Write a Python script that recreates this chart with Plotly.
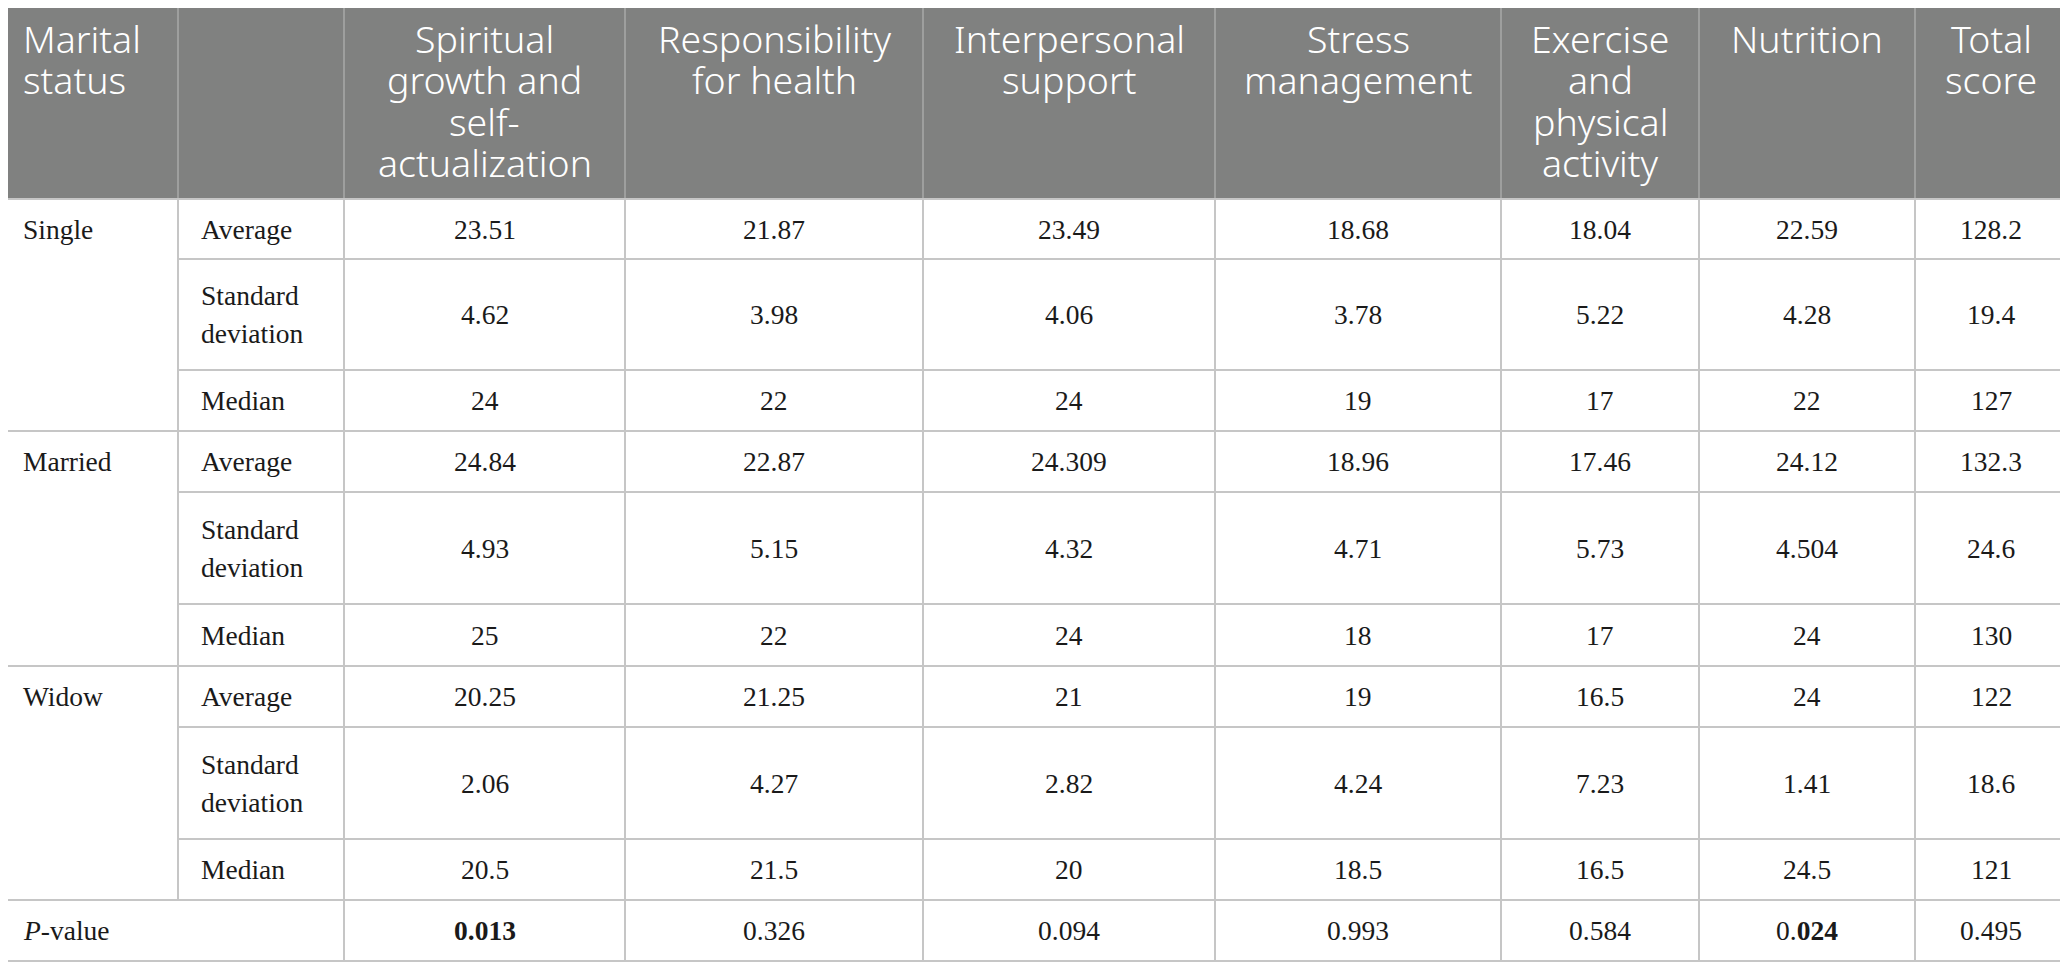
import plotly.graph_objects as go

# ---------------- data ----------------
header_first = "Marital<br>status"
categories = [
    "Spiritual<br>growth and<br>self-<br>actualization",
    "Responsibility<br>for health",
    "Interpersonal<br>support",
    "Stress<br>management",
    "Exercise<br>and<br>physical<br>activity",
    "Nutrition",
    "Total<br>score",
]
groups = ["Single", "Married", "Widow"]
stats = ["Average", "Standard<br>deviation", "Median"]

single_avg = ["23.51", "21.87", "23.49", "18.68", "18.04", "22.59", "128.2"]
single_sd = ["4.62", "3.98", "4.06", "3.78", "5.22", "4.28", "19.4"]
single_med = ["24", "22", "24", "19", "17", "22", "127"]
married_avg = ["24.84", "22.87", "24.309", "18.96", "17.46", "24.12", "132.3"]
married_sd = ["4.93", "5.15", "4.32", "4.71", "5.73", "4.504", "24.6"]
married_med = ["25", "22", "24", "18", "17", "24", "130"]
widow_avg = ["20.25", "21.25", "21", "19", "16.5", "24", "122"]
widow_sd = ["2.06", "4.27", "2.82", "4.24", "7.23", "1.41", "18.6"]
widow_med = ["20.5", "21.5", "20", "18.5", "16.5", "24.5", "121"]
p_label = "<i>P</i>-value"
p_values = ["<b>0.013</b>", "0.326", "0.094", "0.993", "0.584", "0.<b>024</b>", "0.495"]

rows = [single_avg, single_sd, single_med,
        married_avg, married_sd, married_med,
        widow_avg, widow_sd, widow_med]

# ---------------- layout geometry (page pixels) ----------------
W, H = 2068, 980
OFF = 8  # page body margin
col_x = [1, 178, 344, 625, 923, 1215, 1501, 1699, 1915, 2067]
head_top, head_bot = 5, 199
row_y = [199, 259, 370, 431, 492, 604, 666, 727, 839, 900, 961]

HEAD_BG = "#808180"
HEAD_SEP = "#a9aaa9"
GRID = "#c6c6c6"
TXT = "#1a1a1a"
SERIF = "Liberation Serif"
SANS = "Noto Sans"
BODY_SIZE = 27.5
HEAD_SIZE = 37.5
HEAD_LINE = 41.5
HEAD_Y0 = 38
BODY_LINE = 38

shapes = []
annotations = []

def line(x0, y0, x1, y1, color=GRID, width=2):
    shapes.append(dict(type="line", xref="x", yref="y", x0=x0, y0=y0, x1=x1, y1=y1,
                       line=dict(color=color, width=width), layer="above"))

def text(x, y, s, xanchor="center", yanchor="middle", font=SERIF, size=BODY_SIZE,
         color=TXT, weight=None):
    f = dict(family=font, size=size, color=color)
    if weight is not None:
        f["weight"] = weight
    annotations.append(dict(x=x, y=y, xref="x", yref="y", text=s, showarrow=False,
                            xanchor=xanchor, yanchor=yanchor, font=f))

# header background
shapes.append(dict(type="rect", xref="x", yref="y", x0=0, y0=head_top, x1=W, y1=head_bot,
                   fillcolor=HEAD_BG, line=dict(width=0), layer="below"))
line(0, head_top, W, head_top, color="#b8b8b8", width=2)
for x in col_x[1:-1]:
    line(x, head_top, x, head_bot, color=HEAD_SEP, width=1.5)

# header text
pad = 21
for i, ln in enumerate(header_first.split("<br>")):
    text(col_x[0] + pad - 1, HEAD_Y0 + i * HEAD_LINE, ln, xanchor="left", font=SANS,
         size=HEAD_SIZE, color="white", weight=300)
for c, cat in enumerate(categories):
    cx = (col_x[c + 2] + col_x[c + 3]) / 2
    for i, ln in enumerate(cat.split("<br>")):
        text(cx, HEAD_Y0 + i * HEAD_LINE, ln, font=SANS, size=HEAD_SIZE, color="white",
             weight=300)

# body grid
group_lines = [row_y[0], row_y[3], row_y[6], row_y[9], row_y[10]]
for y in group_lines:
    line(0, y, W, y)
for k in range(9):
    if k % 3 != 0:
        line(col_x[1], row_y[k], W, row_y[k])
line(col_x[0], head_top, col_x[0], row_y[-1], color=GRID, width=1.5)
line(col_x[-1], head_top, col_x[-1], row_y[-1], color=GRID, width=1.5)
line(col_x[1], row_y[0], col_x[1], row_y[9])
for x in col_x[2:-1]:
    line(x, row_y[0], x, row_y[-1])

# body text
for g, grp in enumerate(groups):
    r0 = g * 3
    text(col_x[0] + pad - 1, (row_y[r0] + row_y[r0 + 1]) / 2, grp, xanchor="left")
    for s, st in enumerate(stats):
        r = r0 + s
        yc = (row_y[r] + row_y[r + 1]) / 2
        parts = st.split("<br>")
        n = len(parts)
        for i, ln in enumerate(parts):
            text(col_x[1] + pad, yc + (i - (n - 1) / 2) * BODY_LINE, ln, xanchor="left")
        for c, v in enumerate(rows[r]):
            cx = (col_x[c + 2] + col_x[c + 3]) / 2
            text(cx, yc, v)

# p-value row
yc = (row_y[9] + row_y[10]) / 2
text(col_x[0] + pad - 1, yc, p_label, xanchor="left")
for c, v in enumerate(p_values):
    cx = (col_x[c + 2] + col_x[c + 3]) / 2
    text(cx, yc, v)

fig = go.Figure()
fig.add_trace(go.Scatter(x=[OFF, W], y=[OFF, H], mode="markers", marker=dict(opacity=0),
                         hoverinfo="skip", showlegend=False))
fig.update_layout(
    width=W, height=H, margin=dict(l=0, r=0, t=0, b=0),
    paper_bgcolor="white", plot_bgcolor="white",
    xaxis=dict(range=[OFF, OFF + W], visible=False, fixedrange=True),
    yaxis=dict(range=[OFF + H, OFF], visible=False, fixedrange=True),
    shapes=shapes, annotations=annotations, showlegend=False,
)
fig.write_html("out.html", config={"displayModeBar": False})
